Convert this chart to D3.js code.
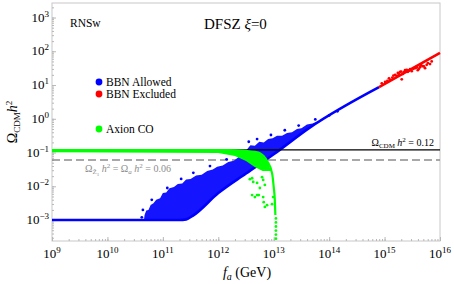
<!DOCTYPE html>
<html>
<head>
<meta charset="utf-8">
<script src="https://cdn.jsdelivr.net/npm/d3@7"></script>
<style>
body { margin: 0; background: #fff; }
text { font-family: "Liberation Serif", "Times New Roman", serif; }
</style>
</head>
<body>
<svg id="chart" width="454" height="284"></svg>
<script>
//////////////////////////////////////////////////////////////////////////////
// Data (all values as log10): [log10 fa, log10 Omega h^2]

var xDecades = [9, 10, 11, 12, 13, 14, 15, 16];
var yDecades = [-3, -2, -1, 0, 1, 2, 3];

var blueLine = [[9, -3], [11.3, -3], [11.42, -2.98], [11.55, -2.86], [12, -2.2],
                [12.5, -1.62], [13, -1.05], [13.65, -0.26], [14.9, 0.94]];
var blueUpper = [[10.66, -3], [10.67, -2.85], [10.7, -2.72], [10.74, -2.7], [10.78, -2.55],
                 [10.83, -2.5], [10.88, -2.4], [10.95, -2.35], [11.0, -2.2], [11.06, -2.18],
                 [11.12, -2.06], [11.2, -2.02], [11.27, -1.93], [11.35, -1.92], [11.42, -1.8],
                 [11.5, -1.78], [11.6, -1.68], [11.7, -1.66], [11.8, -1.55], [11.9, -1.5],
                 [11.98, -1.42], [12.08, -1.38], [12.18, -1.28], [12.28, -1.24], [12.38, -1.12],
                 [12.45, -1.1], [12.52, -0.9], [12.58, -0.78], [12.66, -0.8], [12.74, -0.68],
                 [12.82, -0.7], [12.9, -0.6], [12.98, -0.58], [13.06, -0.5], [13.15, -0.5],
                 [13.24, -0.42], [13.33, -0.4], [13.42, -0.3], [13.5, -0.28], [13.6, -0.17],
                 [13.7, -0.14], [13.8, -0.07], [13.9, -0.02]];
var blueLower = [[13.9, -0.02], [13.65, -0.26], [13, -1.05], [12.5, -1.62], [12, -2.2],
                 [11.55, -2.86], [11.42, -2.98], [11.3, -3], [10.66, -3]];
var blueDots = [[10.62, -2.92], [10.64, -2.7], [10.8, -2.4], [11.08, -2.05], [11.33, -1.78],
                [11.55, -1.6], [11.85, -1.4], [12.15, -1.2], [12.42, -1.0], [12.55, -0.68],
                [12.7, -0.6], [12.95, -0.48], [13.2, -0.34], [13.45, -0.2], [13.75, -0.02],
                [14.0, 0.1], [14.15, 0.22]];

var redLine = [[14.9, 0.94], [16, 1.95]];
var redDots = [[14.95, 1.05], [15.01, 1.09], [15.05, 1.12], [15.08, 1.2], [15.1, 1.15],
               [15.14, 1.22], [15.16, 1.28], [15.19, 1.3], [15.22, 1.27], [15.24, 1.36],
               [15.26, 1.32], [15.28, 1.39], [15.3, 1.4], [15.31, 1.17], [15.33, 1.33],
               [15.35, 1.38], [15.37, 1.44], [15.4, 1.45], [15.42, 1.39], [15.44, 1.42],
               [15.46, 1.47], [15.49, 1.41], [15.52, 1.48], [15.55, 1.5], [15.58, 1.52],
               [15.6, 1.44], [15.62, 1.48], [15.64, 1.53], [15.66, 1.58], [15.69, 1.56],
               [15.71, 1.55], [15.73, 1.5], [15.76, 1.6], [15.78, 1.65], [15.82, 1.62],
               [15.85, 1.7]];

var greenTop = [[9, -0.93], [12.2, -0.93], [12.48, -0.95], [12.66, -0.98], [12.75, -1.02],
                [12.88, -1.25], [12.97, -1.61], [13, -2.02], [13.02, -2.41], [13.03, -2.85]];
var greenLow = [[12.95, -1.55], [12.8, -1.55], [12.65, -1.42], [12.5, -1.25], [12.3, -1.1],
                [12, -1.01], [9, -0.99]];
var greenDots = [[12.57, -1.79], [12.61, -1.76], [12.63, -1.87], [12.7, -1.9], [12.79, -1.73],
                 [12.81, -1.81], [12.84, -1.96], [12.75, -2.05], [12.66, -2.32], [12.73, -2.26],
                 [12.81, -2.32], [12.84, -2.61], [12.99, -2.32], [12.61, -2.26], [12.7, -2.26],
                 [12.82, -2.47], [12.88, -2.56], [12.97, -2.53],
                 [13.04, -2.95], [13.04, -3.07], [13.04, -3.19], [13.04, -3.31], [13.04, -3.43],
                 [13.04, -3.55]];

var omegaCDM = 0.12;
var omegaHalf = 0.06;

//////////////////////////////////////////////////////////////////////////////
// Scales

var svg = d3.select("#chart");

var xScale = d3.scaleLog().domain([1e9, 1e16]).range([52, 440]);
var yScale = d3.scaleLog().domain([Math.pow(10, -3.62), Math.pow(10, 3.43)]).range([241, 3]);

function px(d) { return xScale(Math.pow(10, d[0])); }
function py(d) { return yScale(Math.pow(10, d[1])); }

var line = d3.line().x(px).y(py);
var smooth = d3.line().x(px).y(py).curve(d3.curveMonotoneX);

function minors(decades) {
    var out = [];
    decades.forEach(function(e) {
        for (var k = 1; k < 10; k++) out.push(k * Math.pow(10, e));
    });
    return out;
}

//////////////////////////////////////////////////////////////////////////////
// Frame and ticks

svg.append("rect")
    .attr("x", 52).attr("y", 3).attr("width", 388).attr("height", 238)
    .attr("fill", "none").attr("stroke", "#c8c8c8");

var xMinor = minors(xDecades.slice(0, -1)).filter(function(v) { return v > 1e9; });
var yMinor = minors([-4, -3, -2, -1, 0, 1, 2, 3]).filter(function(v) {
    return v > Math.pow(10, -3.62) && v < Math.pow(10, 3.43);
});

function grayTicks(g) {
    g.select(".domain").remove();
    g.selectAll("line").attr("stroke", "#b8b8b8");
}

svg.append("g").attr("transform", "translate(0,241)")
    .call(d3.axisBottom(xScale).tickValues(xMinor).tickSize(-2).tickFormat(""))
    .call(grayTicks);
svg.append("g").attr("transform", "translate(0,241)")
    .call(d3.axisBottom(xScale).tickValues(xDecades.map(function(e) { return Math.pow(10, e); })).tickSize(-4).tickFormat(""))
    .call(grayTicks);

svg.append("g").attr("transform", "translate(52,0)")
    .call(d3.axisLeft(yScale).tickValues(yMinor).tickSize(-2).tickFormat(""))
    .call(grayTicks);
svg.append("g").attr("transform", "translate(52,0)")
    .call(d3.axisLeft(yScale).tickValues(yDecades.map(function(e) { return Math.pow(10, e); })).tickSize(-4).tickFormat(""))
    .call(grayTicks);

// tick labels, 10 with a superscript
var xl = svg.append("g").selectAll("text").data(xDecades).enter().append("text")
    .attr("x", function(e) { return xScale(Math.pow(10, e)); })
    .attr("y", 258)
    .attr("text-anchor", "middle")
    .attr("font-size", 13);
xl.append("tspan").text("10");
xl.append("tspan").attr("dy", -5).attr("font-size", 9).text(function(e) { return e; });

var yl = svg.append("g").selectAll("text").data(yDecades).enter().append("text")
    .attr("x", 49)
    .attr("y", function(e) { return yScale(Math.pow(10, e)) + 4; })
    .attr("text-anchor", "end")
    .attr("font-size", 13);
yl.append("tspan").text("10");
yl.append("tspan").attr("dy", -5).attr("font-size", 9)
    .text(function(e) { return e < 0 ? "\u2212" + (-e) : e; });

//////////////////////////////////////////////////////////////////////////////
// Marks

var plot = svg.append("g");

// dashed Omega h^2 = 0.06
plot.append("line")
    .attr("x1", 52).attr("x2", 440)
    .attr("y1", yScale(omegaHalf)).attr("y2", yScale(omegaHalf))
    .attr("stroke", "#8c8c8c").attr("stroke-width", 1.6)
    .attr("stroke-dasharray", "8,4");

// BBN allowed
plot.append("path")
    .attr("d", line(blueUpper.concat(blueLower)) + "Z")
    .attr("fill", "#1414ff");
plot.append("path")
    .attr("d", smooth(blueLine))
    .attr("fill", "none").attr("stroke", "#0000ff").attr("stroke-width", 2.6);
plot.selectAll(".bd").data(blueDots).enter().append("circle")
    .attr("cx", px).attr("cy", py).attr("r", 1.4).attr("fill", "#0000ff");

// BBN excluded
plot.append("path")
    .attr("d", line(redLine))
    .attr("fill", "none").attr("stroke", "#ff0000").attr("stroke-width", 2.6);
plot.selectAll(".rd").data(redDots).enter().append("circle")
    .attr("cx", px).attr("cy", py).attr("r", 1.4).attr("fill", "#ff0000");

// Omega_CDM h^2 = 0.12
plot.append("line")
    .attr("x1", 52).attr("x2", 440)
    .attr("y1", yScale(omegaCDM)).attr("y2", yScale(omegaCDM))
    .attr("stroke", "#000").attr("stroke-width", 1.3);

// Axion CO
plot.append("path")
    .attr("d", line(greenTop.slice(0, 7).concat(greenLow)) + "Z")
    .attr("fill", "#00ff00");
plot.append("path")
    .attr("d", smooth(greenTop))
    .attr("fill", "none").attr("stroke", "#00ff00").attr("stroke-width", 2.2);
plot.selectAll(".gd").data(greenDots).enter().append("circle")
    .attr("cx", px).attr("cy", py).attr("r", 1.4).attr("fill", "#00ff00");

//////////////////////////////////////////////////////////////////////////////
// Legend and annotations

var legend = [
    { name: "BBN Allowed", color: "#0000ff", y: 82 },
    { name: "BBN Excluded", color: "#ff0000", y: 94 },
    { name: "Axion CO", color: "#00ff00", y: 129 }
];
var lg = svg.append("g").selectAll("g").data(legend).enter().append("g");
lg.append("circle").attr("cx", 99).attr("cy", function(d) { return d.y; })
    .attr("r", 3.4).attr("fill", function(d) { return d.color; });
lg.append("text").attr("x", 106).attr("y", function(d) { return d.y + 4; })
    .attr("font-size", 11.5).text(function(d) { return d.name; });

svg.append("text").attr("x", 70).attr("y", 27).attr("font-size", 11.5).text("RNSw");

var title = svg.append("text").attr("x", 204).attr("y", 29).attr("font-size", 15);
title.append("tspan").text("DFSZ ");
title.append("tspan").attr("font-style", "italic").text("\u03be");
title.append("tspan").text("=0");

var cdm = svg.append("text").attr("x", 434).attr("y", 146)
    .attr("text-anchor", "end").attr("font-size", 10);
cdm.append("tspan").text("\u03a9");
cdm.append("tspan").attr("font-size", 7).attr("dy", 2).text("CDM");
cdm.append("tspan").attr("dy", -2).text(" ");
cdm.append("tspan").attr("font-style", "italic").text("h");
cdm.append("tspan").attr("font-size", 7).attr("dy", -4).text("2");
cdm.append("tspan").attr("dy", 4).text(" = 0.12");

var half = svg.append("text").attr("x", 85).attr("y", 172)
    .attr("font-size", 10).attr("fill", "#8c8c8c");
half.append("tspan").text("\u03a9");
half.append("tspan").attr("font-size", 7).attr("dy", 2).text("Z\u0303");
half.append("tspan").attr("font-size", 5).attr("dy", 1.5).text("1");
half.append("tspan").attr("dy", -3.5).text(" ");
half.append("tspan").attr("font-style", "italic").text("h");
half.append("tspan").attr("font-size", 7).attr("dy", -4).text("2");
half.append("tspan").attr("dy", 4).text(" = \u03a9");
half.append("tspan").attr("font-size", 7).attr("font-style", "italic").attr("dy", 2).text("a");
half.append("tspan").attr("dy", -2).text(" ");
half.append("tspan").attr("font-style", "italic").text("h");
half.append("tspan").attr("font-size", 7).attr("dy", -4).text("2");
half.append("tspan").attr("dy", 4).text(" = 0.06");

// axis titles
var xt = svg.append("text").attr("x", 247).attr("y", 277)
    .attr("text-anchor", "middle").attr("font-size", 14);
xt.append("tspan").attr("font-style", "italic").text("f");
xt.append("tspan").attr("font-style", "italic").attr("font-size", 10).attr("dy", 3).text("a");
xt.append("tspan").attr("dy", -3).text(" (GeV)");

var yt = svg.append("text").attr("transform", "translate(17,122) rotate(-90)")
    .attr("text-anchor", "middle").attr("font-size", 14);
yt.append("tspan").text("\u03a9");
yt.append("tspan").attr("font-size", 9).attr("dy", 3).text("CDM");
yt.append("tspan").attr("font-style", "italic").attr("dy", -3).text("h");
yt.append("tspan").attr("font-size", 9).attr("dy", -5).text("2");
</script>
</body>
</html>
